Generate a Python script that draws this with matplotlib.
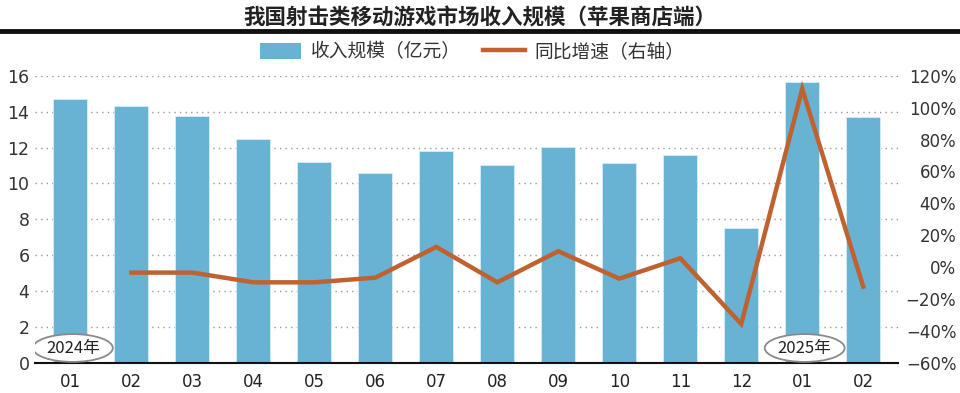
import numpy as np
import matplotlib
matplotlib.use('Agg')
import matplotlib.pyplot as plt
from matplotlib.patches import Ellipse
from matplotlib.lines import Line2D
from matplotlib.patches import Patch

plt.rcParams['font.family'] = ['Noto Sans CJK SC', 'DejaVu Sans']
plt.rcParams['axes.unicode_minus'] = True

# data
months = ['01', '02', '03', '04', '05', '06', '07', '08', '09', '10', '11', '12', '01', '02']
revenue = [14.72, 14.33, 13.75, 12.47, 11.17, 10.60, 11.82, 11.03, 12.01, 11.16, 11.60, 7.50, 15.67, 13.70]
growth = [np.nan, -3.4, -3.4, -9.5, -9.5, -6.6, 12.7, -9.5, 10.0, -7.2, 5.6, -35.6, 111.7, -12.2]
left_ticks = [0, 2, 4, 6, 8, 10, 12, 14, 16]
right_ticks = [-60, -40, -20, 0, 20, 40, 60, 80, 100, 120]
year_marks = [(0, '2024年'), (12, '2025年')]

bar_color = '#68b2d3'
line_color = '#c0622f'
text_color = '#333333'
num_font = 'DejaVu Sans'

fig = plt.figure(figsize=(9.6, 3.93), dpi=100)
ax = fig.add_axes([35 / 960, 30.1 / 393, 863 / 960, 287.2 / 393])
ax2 = ax.twinx()

x = np.arange(len(months))
ax.bar(x, revenue, width=0.56, color=bar_color, edgecolor='#d6eef8', linewidth=0.6, zorder=2)
ax.set_xlim(-0.58, 13.57)
ax.set_ylim(0, 16)
ax.set_yticks(left_ticks)
ax.set_xticks(x)
ax.set_xticklabels(months)
for t in left_ticks[1:]:
    ax.axhline(t, color='#999999', linewidth=1, linestyle=(0, (1, 3)), zorder=1)

ax.tick_params(axis='y', length=0, pad=4, labelsize=12.5, labelcolor=text_color)
ax.tick_params(axis='x', length=0, pad=7, labelsize=12, labelcolor='#222222')
for lab in ax.get_yticklabels() + ax.get_xticklabels():
    lab.set_family(num_font)
for s in ['top', 'right', 'left']:
    ax.spines[s].set_visible(False)
ax.spines['bottom'].set_linewidth(1.5)
ax.spines['bottom'].set_color('#111111')
ax.spines['bottom'].set_zorder(5)

ax2.plot(x, growth, color=line_color, linewidth=3.2, solid_joinstyle='miter', zorder=3)
ax2.set_ylim(-60, 120)
ax2.set_yticks(right_ticks)
ax2.set_yticklabels([f'{v}%'.replace('-', '\u2212') for v in right_ticks])
ax2.tick_params(axis='y', length=0, pad=42, labelsize=12, labelcolor=text_color)
for lab in ax2.get_yticklabels():
    lab.set_horizontalalignment('right')
    lab.set_family(num_font)
for s in ['top', 'right', 'left', 'bottom']:
    ax2.spines[s].set_visible(False)

# year badges
for xi, label in year_marks:
    e = Ellipse((xi + 0.04, 0.83), width=1.31, height=1.55, transform=ax.transData,
                facecolor='white', edgecolor='#8a8a8a', linewidth=1.3, zorder=6)
    ax2.add_patch(e)
    ax2.text(xi + 0.04, 0.83, label, transform=ax.transData, ha='center', va='center',
             fontsize=12, color='#222222', zorder=7)

# title and rule
fig.text(0.5, 1 - 18 / 393, '我国射击类移动游戏市场收入规模（苹果商店端）', ha='center', va='center',
         fontsize=15.5, fontweight='bold', color='#222222')
fig.add_artist(Line2D([0, 1], [1 - 31 / 393, 1 - 31 / 393], color='#111111', linewidth=3.5))

handles = [Patch(facecolor=bar_color, edgecolor='none'),
           Line2D([0], [0], color=line_color, linewidth=3.2)]
fig.legend(handles, ['收入规模（亿元）', '同比增速（右轴）'], loc='center',
           bbox_to_anchor=(472 / 960, 1 - 52 / 393), ncol=2, frameon=False,
           fontsize=13.5, labelcolor=text_color, handlelength=2.2, handleheight=1.0,
           columnspacing=1.2, handletextpad=0.5)

fig.savefig('out.png', dpi=100)
